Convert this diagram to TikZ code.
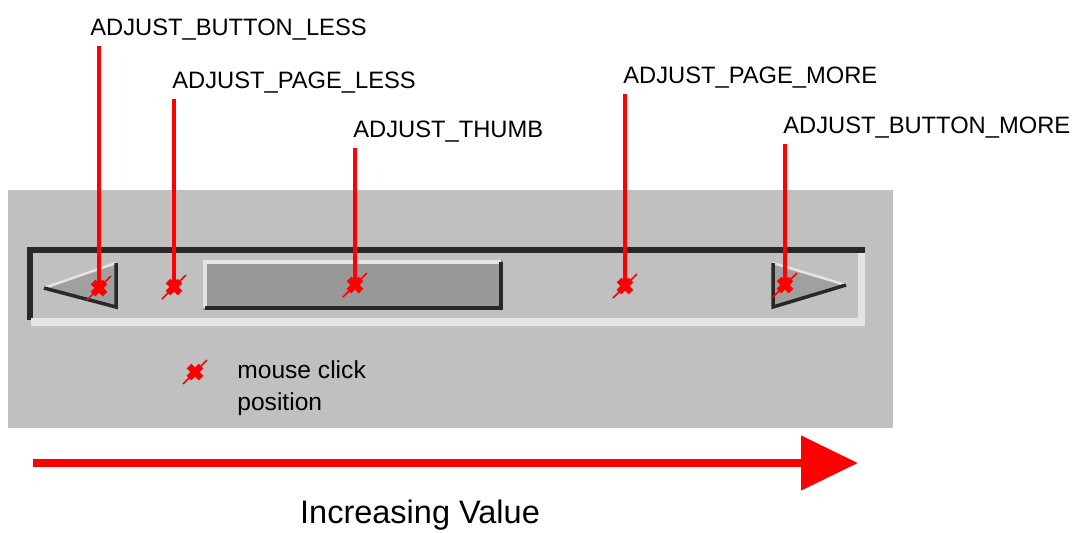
\documentclass[tikz,border=0pt]{standalone}
\usepackage{fontspec}
\setmainfont{Liberation Sans}
\usetikzlibrary{calc,arrows.meta}
\definecolor{panel}{RGB}{192,192,192}
\definecolor{edgedark}{RGB}{40,40,40}
\definecolor{edgelight}{RGB}{228,228,228}
\definecolor{thumbgrey}{RGB}{152,152,152}
\definecolor{btngrey}{RGB}{160,160,160}

\begin{document}
\begin{tikzpicture}[x=0.02cm,y=-0.02cm,
  lbl/.style={anchor=base west,inner sep=0pt,font=\fontsize{13.5}{16}\selectfont},
  pointer/.style={red,line width=0.08cm},
  clickmark/.pic={\draw[red,line width=0.03cm] (-12,12)--(12,-12);
    \draw[red,line width=0.13cm] (-6,-6)--(6,6) (-6,6)--(6,-6);}]
\useasboundingbox (0,0) rectangle (1080,532);
\fill[panel] (8,190) rectangle (893,428);
% sunken track
\fill[edgedark] (27,247) rectangle (865,253);
\fill[edgedark] (27,247) rectangle (33,320);
\fill[edgelight] (31,318) rectangle (865,326);
\fill[edgelight] (858,253) rectangle (865,326);
% arrow buttons
\fill[btngrey] (44,288)--(116,263)--(116,307)--cycle;
\draw[edgelight,line width=0.05cm] (44,288)--(116,263);
\draw[edgedark,line width=0.07cm] (44,288)--(116,307)--(116,263);
\fill[btngrey] (773,263)--(846,285)--(773,307)--cycle;
\draw[edgelight,line width=0.05cm] (773,263)--(846,285);
\draw[edgedark,line width=0.07cm] (846,285)--(773,307)--(773,263);
% thumb
\fill[thumbgrey] (203,260) rectangle (503,310);
\draw[edgelight,line width=0.07cm] (205,308)--(205,262)--(501,262);
\draw[edgedark,line width=0.08cm] (205,308)--(501,308)--(501,262);
% click positions
\coordinate (mkBL) at (99,288);
\coordinate (mkPL) at (174,287);
\coordinate (mkTH) at (355,285);
\coordinate (mkPM) at (625,286);
\coordinate (mkBM) at (785,285);
\node[lbl] (lblBL) at (90,35) {ADJUST\_BUTTON\_LESS};
\node[lbl] (lblPL) at (172,88) {ADJUST\_PAGE\_LESS};
\node[lbl] (lblTH) at (353,137) {ADJUST\_THUMB};
\node[lbl] (lblPM) at (623,83) {ADJUST\_PAGE\_MORE};
\node[lbl] (lblBM) at (783,133) {ADJUST\_BUTTON\_MORE};
\foreach \k in {BL,PL,TH,PM,BM}{
  \draw[pointer] ($(mk\k |- lbl\k.base)+(0,11)$) -- (mk\k);
  \pic at (mk\k) {clickmark};}
% legend
\coordinate (mkKey) at (195,372);
\pic at (mkKey) {clickmark};
\node[anchor=west,align=left,inner sep=0pt,font=\fontsize{14}{18}\selectfont] (key) at (237,388) {mouse click\\position};
% value direction
\coordinate (arrS) at (33,463);
\coordinate (arrE) at (858,463);
\draw[red,line width=0.16cm,-{Triangle[length=1.14cm,width=1.06cm]}] (arrS) -- (arrE);
\node[font=\fontsize{18.5}{22}\selectfont] (incr) at (420,515) {Increasing Value};
\end{tikzpicture}
\end{document}
